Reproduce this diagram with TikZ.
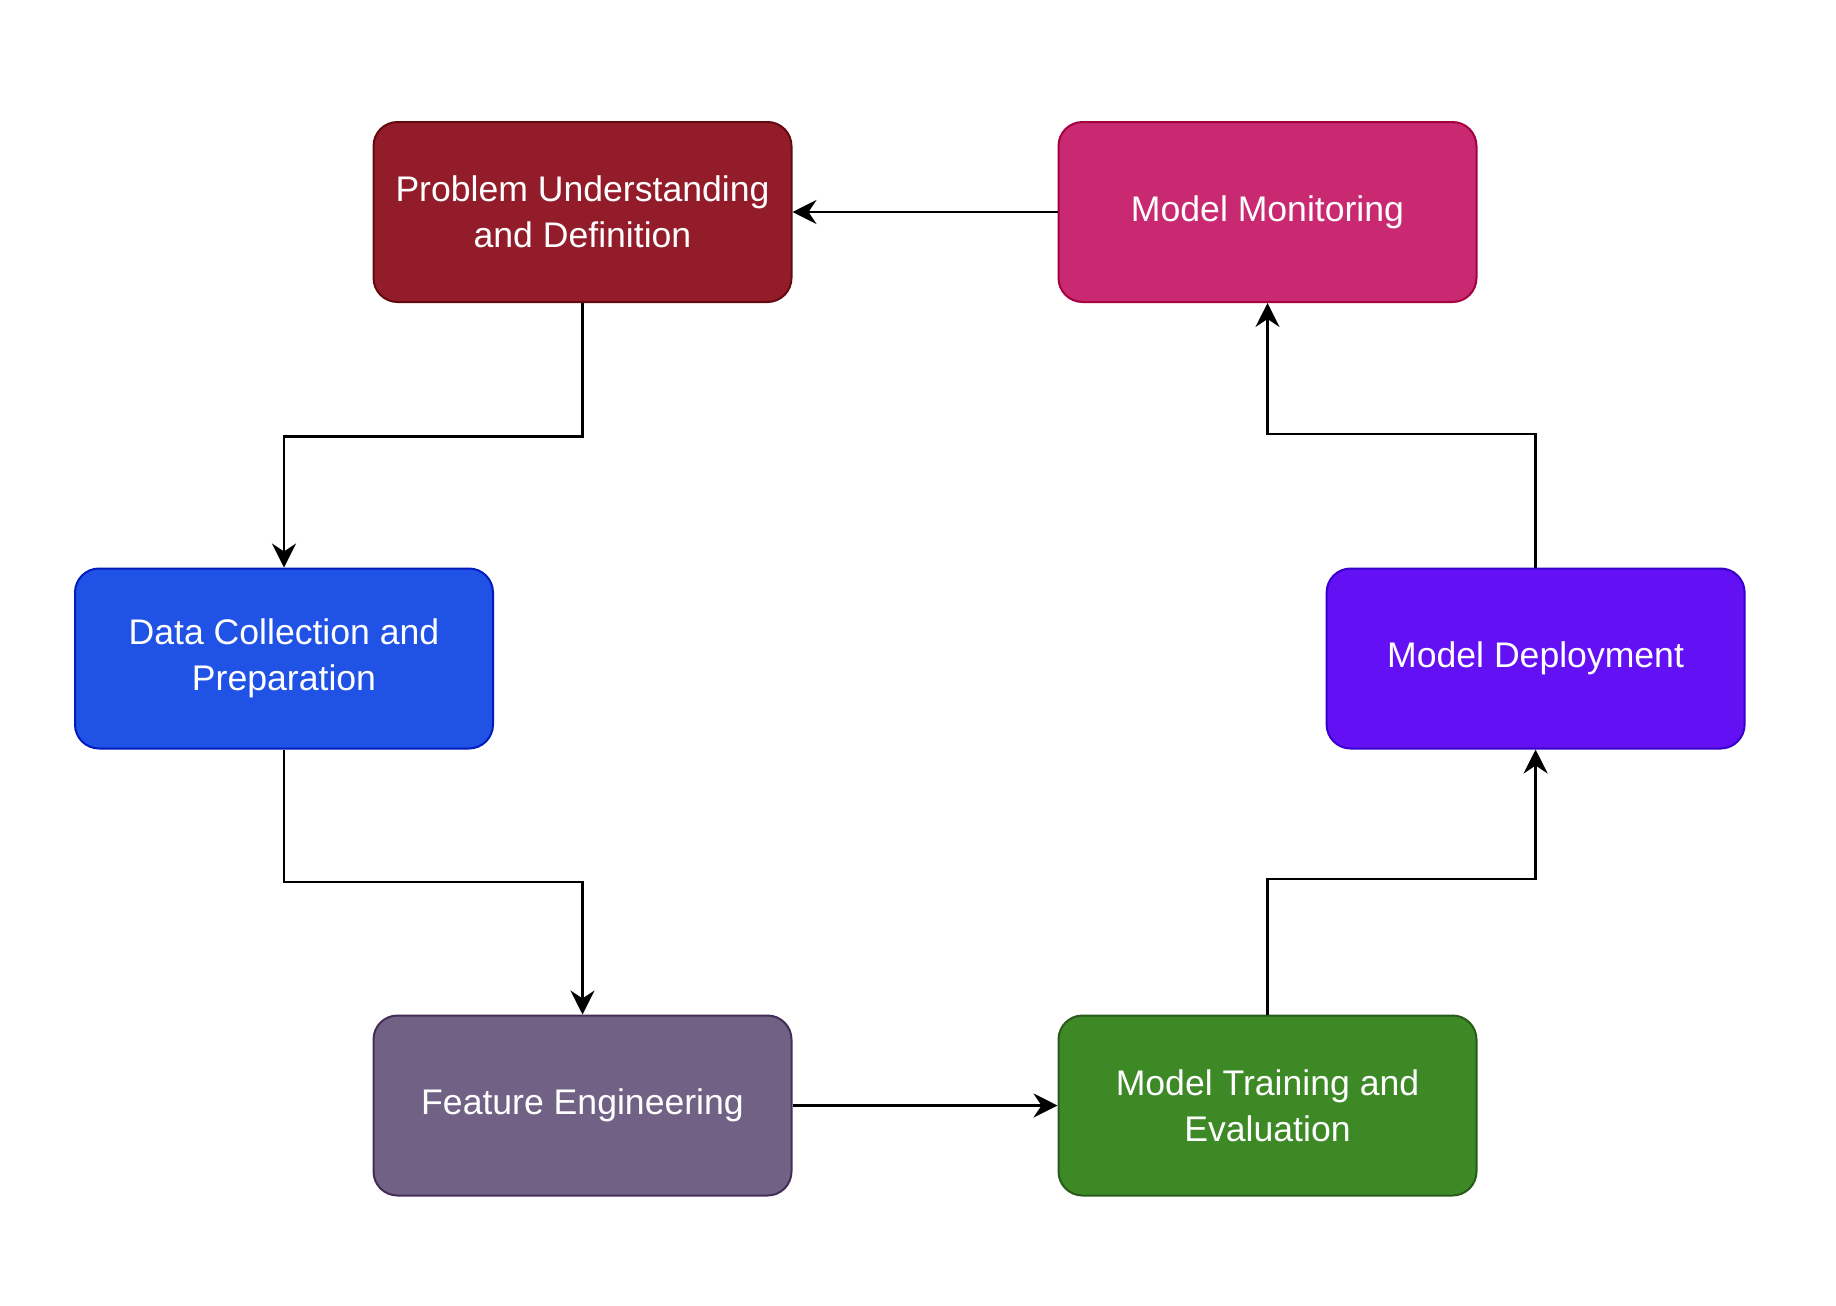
\documentclass[tikz,border=0pt]{standalone}
\usepackage{fontspec}
\setmainfont{Liberation Sans}
\usepackage{xcolor}
\usetikzlibrary{arrows.meta}

\definecolor{probfill}{RGB}{147,28,42}
\definecolor{probline}{RGB}{100,10,15}
\definecolor{datafill}{RGB}{33,82,230}
\definecolor{dataline}{RGB}{0,29,188}
\definecolor{featfill}{RGB}{113,98,133}
\definecolor{featline}{RGB}{67,45,87}
\definecolor{trainfill}{RGB}{60,137,38}
\definecolor{trainline}{RGB}{40,90,25}
\definecolor{deplfill}{RGB}{100,16,245}
\definecolor{deplline}{RGB}{55,0,204}
\definecolor{monfill}{RGB}{200,41,113}
\definecolor{monline}{RGB}{165,0,64}

\begin{document}
\begin{tikzpicture}[x=0.5pt,y=-0.5pt,
  stage/.style={rectangle,rounded corners=12pt,draw,line width=1pt,
    minimum width=209pt,minimum height=90pt,text=white,align=center,
    font=\fontsize{17.8}{22.8}\selectfont},
  flow/.style={-{Stealth[length=12pt,width=12pt,inset=4pt]},line width=1.2pt}]
\useasboundingbox (0,0) rectangle (1836,1306);
\node (prob) at (582.5,212) [stage,fill=probfill,draw=probline] {Problem Understanding\\and Definition};
\node (mon) at (1267.5,212) [stage,fill=monfill,draw=monline] {Model Monitoring};
\node (data) at (284,658.5) [stage,fill=datafill,draw=dataline] {Data Collection and\\Preparation};
\node (depl) at (1535.6,658.5) [stage,fill=deplfill,draw=deplline] {Model Deployment};
\node (feat) at (582.5,1105.5) [stage,fill=featfill,draw=featline] {Feature Engineering};
\node (train) at (1267.5,1105.5) [stage,fill=trainfill,draw=trainline] {Model Training and\\Evaluation};
\draw[flow] (prob.south) -- ++(0,133.6) -| (data.north);
\draw[flow] (data.south) -- ++(0,132.5) -| (feat.north);
\draw[flow] (feat.east) -- (train.west);
\draw[flow] (train.north) -- ++(0,-135.5) -| (depl.south);
\draw[flow] (depl.north) -- ++(0,-133.4) -| (mon.south);
\draw[flow] (mon.west) -- (prob.east);
\end{tikzpicture}
\end{document}
